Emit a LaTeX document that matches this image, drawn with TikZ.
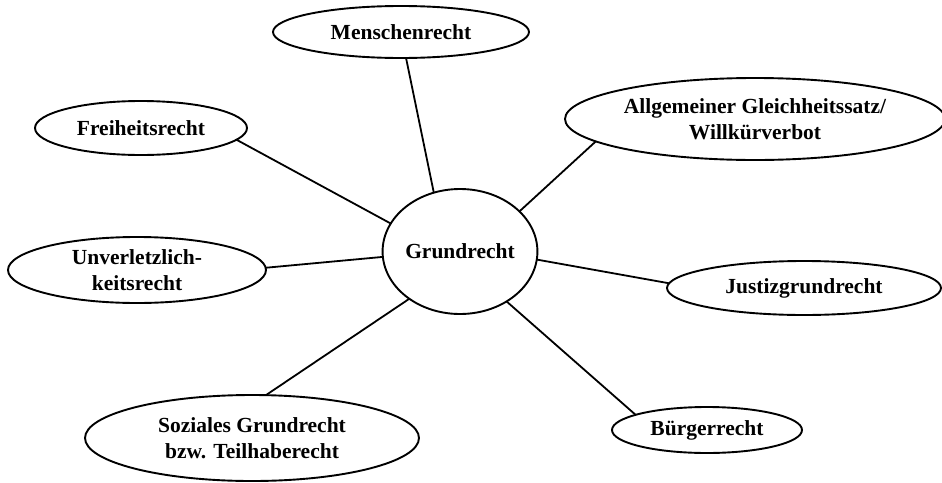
\documentclass[tikz,border=0pt]{standalone}
\usepackage{fontspec}
\setmainfont{Liberation Serif}
\usetikzlibrary{shapes.geometric}
\begin{document}
\begin{tikzpicture}[x=1pt,y=-1pt,
  bubble/.style={ellipse,draw,line width=1.9pt,inner sep=0pt,outer sep=0pt,align=center,
    font=\fontsize{21.5}{26}\selectfont\bfseries},
  link/.style={line width=1.8pt}]
\useasboundingbox[fill=white] (0,0) rectangle (942,482);
\node[bubble,minimum width=151,minimum height=125] (G) at (460,251.5) {Grundrecht};
\node[bubble,minimum width=256,minimum height=52] (M) at (401,32) {Menschenrecht};
\node[bubble,minimum width=212,minimum height=54] (F) at (141,128) {Freiheitsrecht};
\node[bubble,minimum width=380,minimum height=82] (A) at (755,119) {Allgemeiner Gleichheitssatz/\\Willkürverbot};
\node[bubble,minimum width=258,minimum height=66] (U) at (137,270) {Unverletzlich-\\keitsrecht};
\node[bubble,minimum width=274,minimum height=54] (J) at (804,288) {Justizgrundrecht};
\node[bubble,minimum width=334,minimum height=86] (S) at (252,438) {Soziales Grundrecht\\bzw. Teilhaberecht};
\node[bubble,minimum width=190,minimum height=46] (B) at (707,430) {Bürgerrecht};
\draw[link] (M.-79) -- (G.114);
\draw[link] (F.-7) -- (G.158);
\draw[link] (A.188) -- (G.34);
\draw[link] (U.1) -- (G.-176);
\draw[link] (J.178) -- (G.-6);
\draw[link] (S.72) -- (G.223);
\draw[link] (B.168) -- (G.-47);
\end{tikzpicture}
\end{document}
